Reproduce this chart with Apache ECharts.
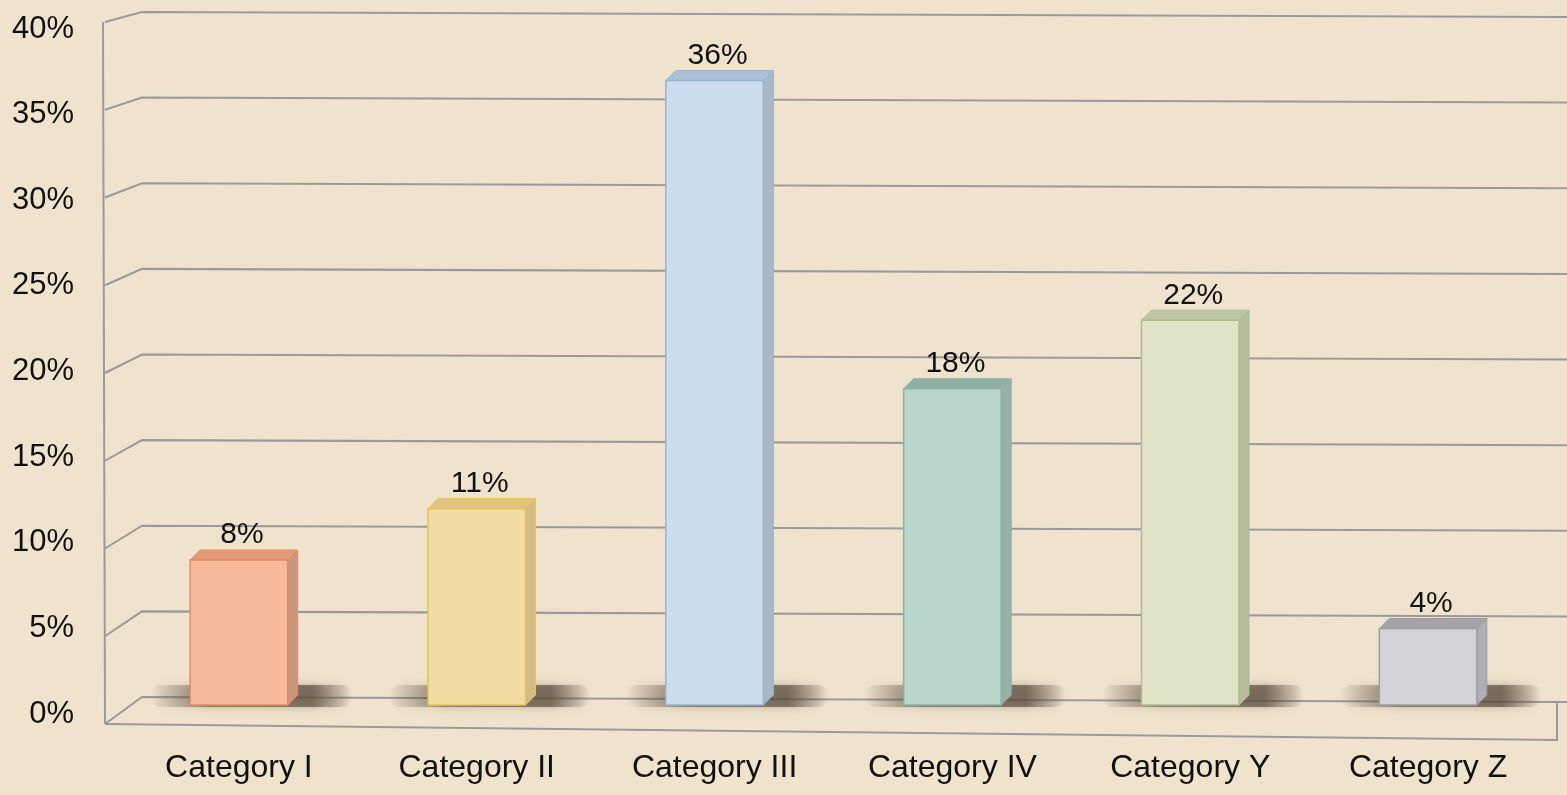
<!DOCTYPE html>
<html><head><meta charset="utf-8">
<script src="https://cdn.jsdelivr.net/npm/echarts@6/dist/echarts.min.js"></script>
<style>html,body{margin:0;padding:0;background:#efe3cd;}#c{width:1567px;height:795px;}</style>
</head><body><div id="c"></div>
<script>
const categories = ['Category I','Category II','Category III','Category IV','Category Y','Category Z'];
const values = [8, 11, 36, 18, 22, 4];
const yTicks = [0, 5, 10, 15, 20, 25, 30, 35, 40];
const frontColors = ['#f5bb9c','#f3dca4','#cadef0','#b9d8cb','#dfe4c6','#d5d3da'];
const topColors   = ['#e49c78','#e2c47c','#a9c0d6','#8fb0a6','#bfc6a2','#a3a3a8'];
const sideColors  = ['#c9977f','#d2bb85','#a8b8c8','#98b0a6','#b8bd9e','#b0afb6'];
const edgeColors  = ['#e88a60','#e3c35a','#9db3c9','#8fb0a4','#b0b98f','#9d9da3'];

const chart = echarts.init(document.getElementById('c'));
const FONT = 'Liberation Sans, Arial, sans-serif';

function wallOffset(v){ return 10 + (40 - v) / 40 * 17; }

chart.setOption({
  backgroundColor: '#efe3cd',
  animation: false,
  grid: { left: 120, right: 20, top: 12, bottom: 98 },
  xAxis: {
    type: 'category', data: categories,
    axisLine: { show: false }, axisTick: { show: false },
    axisLabel: { margin: 55, fontSize: 32, color: '#111', fontFamily: FONT }
  },
  yAxis: {
    type: 'value', min: 0, max: 40, interval: 5,
    axisLine: { show: false }, axisTick: { show: false }, splitLine: { show: false },
    axisLabel: { formatter: '{value}%', fontSize: 31, color: '#111', fontFamily: FONT, margin: 46,
      verticalAlign: 'top', lineHeight: 34 }
  },
  series: [
    {
      type: 'custom', z: 1, silent: true,
      data: yTicks.map(v => [0, v]),
      renderItem: function (params, api) {
        const cs = params.coordSys;
        const v = api.value(1);
        const y = api.coord([0, v])[1];
        const bx = cs.x + 22, fx = cs.x - 15;
        const fy = y + wallOffset(v);
        const right = cs.x + cs.width + 20;
        const ls = { stroke: '#9a9a9a', lineWidth: 2, fill: null };
        const children = [
          { type: 'polyline', shape: { points: [[fx, fy], [bx, y], [right, y + 5]] }, style: ls }
        ];
        if (v === 0) {
          const yt = api.coord([0, 40])[1];
          children.push({ type: 'line', shape: { x1: fx, y1: fy, x2: fx - 2, y2: yt + wallOffset(40) }, style: ls });
          children.push({ type: 'polyline', shape: { points: [[fx, fy], [right - 10, fy + 16], [right - 10, y + 4]] }, style: ls });
        }
        return { type: 'group', children: children };
      }
    },
    {
      type: 'custom', z: 2, silent: true,
      data: values.map((v, i) => [i, v]),
      renderItem: function (params, api) {
        const i = api.value(0), v = api.value(1);
        const p = api.coord([i, v]);
        const cx = p[0], ty = p[1];
        const by = api.coord([i, 0])[1] + 8;
        const w = api.size([1, 0])[0] * 0.41;
        const d = 10;
        const l = cx - w / 2, r = cx + w / 2;
        return {
          type: 'group',
          children: [
            { type: 'rect', shape: { x: l - 40, y: by - 20, width: w + 105, height: 22, r: 11 },
              style: { fill: new echarts.graphic.LinearGradient(0, 0, 1, 0, [
                { offset: 0, color: 'rgba(90,75,60,0)' },
                { offset: 0.3, color: 'rgba(90,75,60,0.6)' },
                { offset: 0.8, color: 'rgba(90,75,60,0.7)' },
                { offset: 1, color: 'rgba(90,75,60,0)' }]),
                shadowBlur: 10, shadowColor: 'rgba(90,75,60,0.5)' } },
            { type: 'polygon', shape: { points: [[r, ty], [r + d, ty - d], [r + d, by - d], [r, by]] },
              style: { fill: sideColors[i], stroke: edgeColors[i], lineWidth: 1 } },
            { type: 'polygon', shape: { points: [[l, ty], [l + d, ty - d], [r + d, ty - d], [r, ty]] },
              style: { fill: topColors[i], stroke: edgeColors[i], lineWidth: 1 } },
            { type: 'rect', shape: { x: l, y: ty, width: w, height: by - ty },
              style: { fill: frontColors[i], stroke: edgeColors[i], lineWidth: 1.5 } },
            { type: 'text', style: { text: v + '%', x: cx + 3, y: ty - 10, textAlign: 'center', textVerticalAlign: 'bottom',
              fontSize: 30, fill: '#111', fontFamily: FONT } }
          ]
        };
      }
    }
  ]
});
</script></body></html>
